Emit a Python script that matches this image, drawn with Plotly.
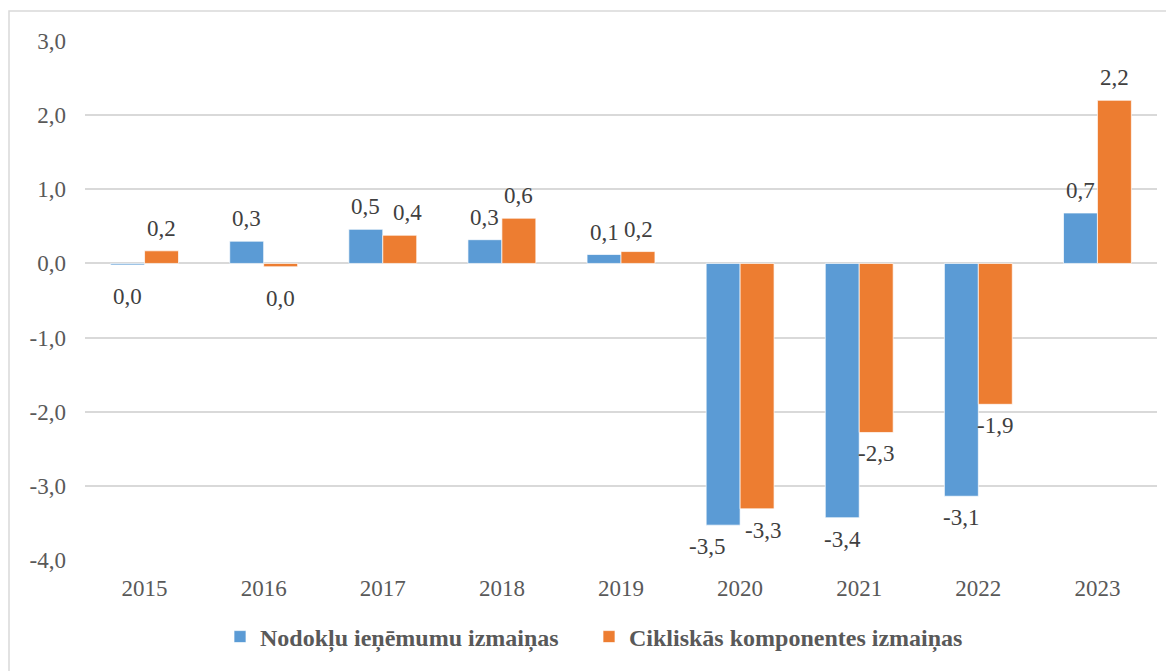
import plotly.graph_objects as go

years = ["2015", "2016", "2017", "2018", "2019", "2020", "2021", "2022", "2023"]
tax_revenue_change = [-0.02, 0.30, 0.46, 0.32, 0.12, -3.53, -3.43, -3.14, 0.68]
cyclical_change = [0.17, -0.045, 0.38, 0.61, 0.16, -3.31, -2.28, -1.90, 2.20]
series_names = ["Nodokļu ieņēmumu izmaiņas", "Cikliskās komponentes izmaiņas"]
y_ticks = [3, 2, 1, 0, -1, -2, -3, -4]


def fmt(v):
    s = f"{v:.1f}"
    if s == "-0.0":
        s = "0.0"
    return s.replace(".", ",")


FONT = "Liberation Serif, Times New Roman, serif"
OFF = 8  # page body margin
W, H = 1174 - OFF, 671 - OFF
L, R, T, B = 85 - OFF, 17, 41 - OFF, 111
COLORS = ["#5B9BD5", "#ED7D31"]
LEGENDS = ["legend", "legend2"]
LABEL_NUDGE = {(0, "2020"): -16, (1, "2020"): 6, (1, "2017"): 8}

fig = go.Figure()
for si, (name, vals) in enumerate(zip(series_names, [tax_revenue_change, cyclical_change])):
    fig.add_trace(go.Bar(
        x=years, y=vals, name=name, legend=LEGENDS[si],
        marker=dict(color=COLORS[si], line=dict(color="white", width=0.7)),
        hoverinfo="skip",
    ))
    for ci, (yr, v) in enumerate(zip(years, vals)):
        near_zero = abs(v) < 0.1
        fig.add_annotation(
            x=ci, y=v, xref="x", yref="y", text=fmt(v), showarrow=False,
            xshift=(-17 if si == 0 else 17) + LABEL_NUDGE.get((si, yr), 0),
            yshift=(8 if v >= 0 else -7) - (10 if near_zero and v < 0 else 0),
            yanchor="bottom" if v >= 0 else "top",
            font=dict(family=FONT, size=23, color="#404040"),
        )

pw = W - L - R
ph = H - T - B
fig.add_shape(type="rect", xref="paper", yref="paper",
              x0=(1 - L) / pw, x1=(W + 20 - L) / pw,
              y0=-(H + 20 - T - ph) / ph, y1=(ph + T - 3) / ph,
              line=dict(color="#d9d9d9", width=1.5), fillcolor="rgba(0,0,0,0)",
              layer="below")

legend_style = dict(orientation="h", xref="container", yref="container",
                    xanchor="left", y=(H - 629) / H, yanchor="middle",
                    font=dict(family=FONT, size=24, color="#595959", weight="bold"),
                    bgcolor="rgba(0,0,0,0)")

fig.update_layout(
    width=W, height=H,
    margin=dict(l=L, r=R, t=T, b=B, autoexpand=False),
    paper_bgcolor="white", plot_bgcolor="white",
    barmode="group", bargap=0.43, bargroupgap=0,
    font=dict(family=FONT, size=23, color="#595959"),
    showlegend=True,
    legend=dict(x=(253 - 41) / W, **legend_style),
    legend2=dict(x=(622 - 41) / W, **legend_style),
    xaxis=dict(type="category", categoryorder="array", categoryarray=years,
               range=[-0.5, len(years) - 0.5],
               showgrid=False, showline=False, ticks="",
               tickfont=dict(family=FONT, size=23, color="#595959"),
               ticklabelstandoff=12),
    yaxis=dict(range=[-4, 3], tickvals=y_ticks,
               ticktext=[fmt(v) for v in y_ticks],
               showgrid=True, gridcolor="#d9d9d9", gridwidth=1.5,
               zeroline=True, zerolinecolor="#d9d9d9", zerolinewidth=1.5,
               showline=False, ticks="",
               tickfont=dict(family=FONT, size=23, color="#595959"),
               ticklabelstandoff=18),
)

fig.write_html("out.html")
